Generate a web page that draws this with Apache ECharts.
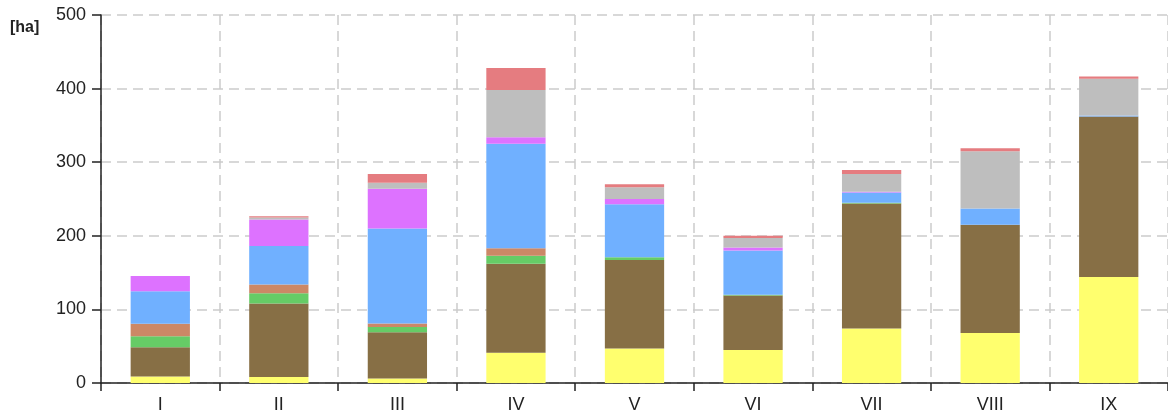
<!DOCTYPE html>
<html>
<head>
<meta charset="utf-8">
<script src="https://cdn.jsdelivr.net/npm/echarts@6/dist/echarts.min.js"></script>
<style>
	html, body { margin: 0; padding: 0; background: #fff; }
	#main { width: 1168px; height: 412px; }
</style>
</head>
<body>
<div id="main"></div>
<script>
// kategorie (osa x)
var categories = ['I', 'II', 'III', 'IV', 'V', 'VI', 'VII', 'VIII', 'IX'];

// hodnoty jednotlivych vrstev [ha], odspodu nahoru
var yellowVals  = [9,   8,   6,   41,  47,  45,  74,  68,  144];
var brownVals   = [39.5, 100, 63, 121, 120, 74,  170, 147, 218];
var greenVals   = [15,  14,  7,   11,  4,   1,   1,   0,   0];
var orangeVals  = [17,  12,  5,   10,  0,   0,   0,   0,   0];
var blueVals    = [44,  52,  129, 142, 72,  60,  14,  22,  1.5];
var magentaVals = [21,  36,  54,  9,   7,   4,   1,   0,   0];
var grayVals    = [0,   3,   8,   64,  16,  13,  24,  78,  50];
var redVals     = [0,   1.5, 12,  30,  4,   3,   5.5, 4,   3];

var yTicks = [0, 100, 200, 300, 400, 500];

var layers = [
	{ name: 'yellow',  data: yellowVals,  color: '#ffff6e' },
	{ name: 'brown',   data: brownVals,   color: '#876f45' },
	{ name: 'green',   data: greenVals,   color: '#66cc66' },
	{ name: 'orange',  data: orangeVals,  color: '#cc8866' },
	{ name: 'blue',    data: blueVals,    color: '#70b0ff' },
	{ name: 'magenta', data: magentaVals, color: '#dd72ff' },
	{ name: 'gray',    data: grayVals,    color: '#bebebe' },
	{ name: 'red',     data: redVals,     color: '#e57c80' }
];

var series = [];
for (var i = 0; i < layers.length; i++) {
	series.push({
		name: layers[i].name,
		type: 'bar',
		stack: 'total',
		barWidth: '50%',
		itemStyle: { color: layers[i].color },
		emphasis: { disabled: true },
		data: layers[i].data
	});
}

var gridLine = {
	show: true,
	lineStyle: { color: '#cccccc', width: 1.5, type: [10, 6] }
};

var myChart = echarts.init(document.getElementById('main'));
var option = {
	animation: false,
	grid: { left: 101, right: 0, top: 15, bottom: 29, containLabel: false, outerBoundsMode: 'none' },
	graphic: [{
		type: 'text',
		left: 10,
		top: 20,
		style: { text: '[ha]', font: 'bold 16px "Liberation Sans", Arial, sans-serif', fill: '#222' }
	}],
	xAxis: {
		type: 'category',
		data: categories,
		axisLine: { lineStyle: { color: '#222', width: 1.5 } },
		axisTick: { show: true, length: 8, lineStyle: { color: '#222', width: 1.5 } },
		axisLabel: { color: '#222', fontSize: 18, fontFamily: 'Liberation Sans', margin: 13 },
		splitLine: gridLine
	},
	yAxis: {
		type: 'value',
		min: yTicks[0],
		max: yTicks[yTicks.length - 1],
		interval: 100,
		axisLine: { show: true, lineStyle: { color: '#222', width: 1.5 } },
		axisTick: { show: true, length: 9, lineStyle: { color: '#222', width: 1.5 } },
		axisLabel: { color: '#222', fontSize: 18, fontFamily: 'Liberation Sans', margin: 15 },
		splitLine: gridLine
	},
	series: series
};
myChart.setOption(option);
</script>
</body>
</html>
